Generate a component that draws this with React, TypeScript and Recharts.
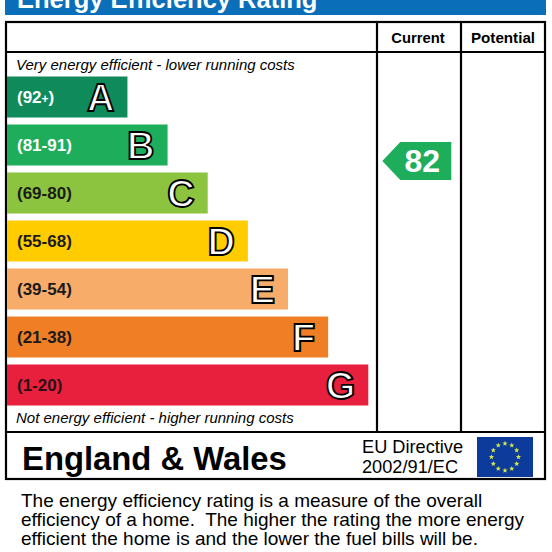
import React from "react";
import { BarChart, Bar, XAxis, YAxis, Cell, ReferenceDot } from "recharts";

// ---- data ----
const bands = ["A", "B", "C", "D", "E", "F", "G"];
const rangeLabels = ["(92+)", "(81-91)", "(69-80)", "(55-68)", "(39-54)", "(21-38)", "(1-20)"];
const rangeLow = [92, 81, 69, 55, 39, 21, 1];
const rangeHigh = [100, 91, 80, 68, 54, 38, 20];
const barLengths = [3, 4, 5, 6, 7, 8, 9];
const currentRating = 82;
const potentialRating: number | null = null;

// ---- styles ----
const bandColors = ["#0f8b5b", "#1eae5b", "#8cc43f", "#ffcc00", "#f8ac69", "#f07e24", "#e8203d"];
const rangeTextColors = ["#ffffff", "#ffffff", "#1a1a1a", "#1a1a1a", "#1a1a1a", "#1a1a1a", "#2a1014"];
const FONT = "'Liberation Sans', Arial, Helvetica, sans-serif";

const data = bands.map((b, i) => ({
  band: b,
  length: barLengths[i],
  range: rangeLabels[i],
  low: rangeLow[i],
  high: rangeHigh[i],
}));

function bandOf(r: number) {
  const i = rangeLow.findIndex((lo, k) => r >= lo && r <= rangeHigh[k]);
  return i < 0 ? 0 : i;
}

const BAR = 41;

const BandShape = (props: any) => {
  const { x, y, width, height, fill, index } = props;
  const cy = y + height / 2;
  const label: string = rangeLabels[index];
  const hasPlus = label.includes("+");
  return (
    <g>
      <rect x={x} y={y} width={width} height={height} fill={fill} />
      <text
        x={x + 10}
        y={cy + 6}
        fontFamily={FONT}
        fontWeight="bold"
        fontSize={17}
        fill={rangeTextColors[index]}
      >
        {hasPlus ? (
          <>
            {label.split("+")[0]}
            <tspan fontSize={12}>+</tspan>
            {label.split("+")[1]}
          </>
        ) : (
          label
        )}
      </text>
      <text
        x={x + width - 13}
        y={cy + 13.6}
        textAnchor="end"
        fontFamily={FONT}
        fontWeight="bold"
        fontSize={38}
        fill="#ffffff"
        stroke="#000000"
        strokeWidth={1.8}
      >
        {bands[index]}
      </text>
    </g>
  );
};

const makeArrow = (rating: number, colOffset: number) => (props: any) => {
  const { cx, cy } = props;
  const i = bandOf(rating);
  const frac = (rangeHigh[i] - rating) / (rangeHigh[i] - rangeLow[i]);
  const yc = cy - BAR / 2 + frac * BAR;
  const tip = cx + colOffset;
  const right = tip + 69;
  const h = 19;
  const pts = `${tip},${yc} ${tip + 18},${yc - h} ${right},${yc - h} ${right},${yc + h} ${tip + 18},${yc + h}`;
  return (
    <g>
      <polygon points={pts} fill={bandColors[i]} />
      <text
        x={tip + 40}
        y={yc + 11}
        textAnchor="middle"
        fontFamily={FONT}
        fontWeight="bold"
        fontSize={32}
        fill="#ffffff"
      >
        {rating}
      </text>
    </g>
  );
};

function Stars() {
  const cx = 505, cy = 457, R = 13.5;
  const stars = [];
  for (let k = 0; k < 12; k++) {
    const a = (k * Math.PI * 2) / 12;
    const sx = cx + R * Math.sin(a);
    const sy = cy - R * Math.cos(a);
    const p = [];
    for (let j = 0; j < 10; j++) {
      const rr = j % 2 === 0 ? 2.8 : 1.15;
      const b = (j * Math.PI) / 5;
      p.push(`${sx + rr * Math.sin(b)},${sy - rr * Math.cos(b)}`);
    }
    stars.push(<polygon key={k} points={p.join(" ")} fill="#d8e84a" />);
  }
  return <g>{stars}</g>;
}

export default function App() {
  const lastLen = barLengths[barLengths.length - 1];
  return (
    <div style={{ position: "absolute", left: 0, top: 0, width: 552, height: 552, background: "#fff", overflow: "hidden" }}>
      <svg width={552} height={552} style={{ position: "absolute", left: 0, top: 0 }}>
        <rect x={5} y={0} width={541} height={15} fill="#0a6fb8" />
        <text x={17} y={8} fontFamily={FONT} fontWeight="bold" fontSize={25.5} fill="#ffffff">
          Energy Efficiency Rating
        </text>
        <g stroke="#000" strokeWidth={2.2} fill="none">
          <rect x={6} y={22} width={539} height={457} />
          <line x1={6} x2={545} y1={52} y2={52} />
          <line x1={6} x2={545} y1={432} y2={432} />
          <line x1={377} x2={377} y1={22} y2={432} />
          <line x1={461} x2={461} y1={22} y2={432} />
        </g>
        <text x={418} y={43} textAnchor="middle" fontFamily={FONT} fontWeight="bold" fontSize={14.8} fill="#000">
          Current
        </text>
        <text x={503} y={43} textAnchor="middle" fontFamily={FONT} fontWeight="bold" fontSize={15.2} fill="#000">
          Potential
        </text>
        <text x={16} y={70} fontFamily={FONT} fontStyle="italic" fontSize={15} fill="#000">
          Very energy efficient - lower running costs
        </text>
        <text x={16} y={423} fontFamily={FONT} fontStyle="italic" fontSize={15} fill="#000">
          Not energy efficient - higher running costs
        </text>
        <text x={22} y={470} fontFamily={FONT} fontWeight="bold" fontSize={32.8} fill="#000">
          England &amp; Wales
        </text>
        <text x={362} y={453} fontFamily={FONT} fontSize={18.2} fill="#000">
          EU Directive
        </text>
        <text x={362} y={473} fontFamily={FONT} fontSize={18.2} fill="#000">
          2002/91/EC
        </text>
        <rect x={477} y={437} width={56} height={40} fill="#0d3b9b" />
        <Stars />
        <g fontFamily={FONT} fontSize={19} fill="#000">
          <text x={21} y={507}>The energy efficiency rating is a measure of the overall</text>
          <text x={21} y={526} xmlSpace="preserve">efficiency of a home.  The higher the rating the more energy</text>
          <text x={21} y={545}>efficient the home is and the lower the fuel bills will be.</text>
        </g>
      </svg>
      <div style={{ position: "absolute", left: 0, top: 0 }}>
        <BarChart
          width={552}
          height={552}
          layout="vertical"
          data={data}
          margin={{ top: 72.5, bottom: 143.5, left: 7, right: 183.7 }}
        >
          <XAxis type="number" domain={[0, lastLen]} hide />
          <YAxis type="category" dataKey="band" hide />
          <Bar dataKey="length" barSize={BAR} isAnimationActive={false} shape={BandShape}>
            {data.map((d, i) => (
              <Cell key={d.band} fill={bandColors[i]} />
            ))}
          </Bar>
          <ReferenceDot
            x={lastLen}
            y={bands[bandOf(currentRating)]}
            ifOverflow="visible"
            shape={makeArrow(currentRating, 14)}
          />
          {potentialRating !== null && (
            <ReferenceDot
              x={lastLen}
              y={bands[bandOf(potentialRating)]}
              ifOverflow="visible"
              shape={makeArrow(potentialRating, 98)}
            />
          )}
        </BarChart>
      </div>
    </div>
  );
}
